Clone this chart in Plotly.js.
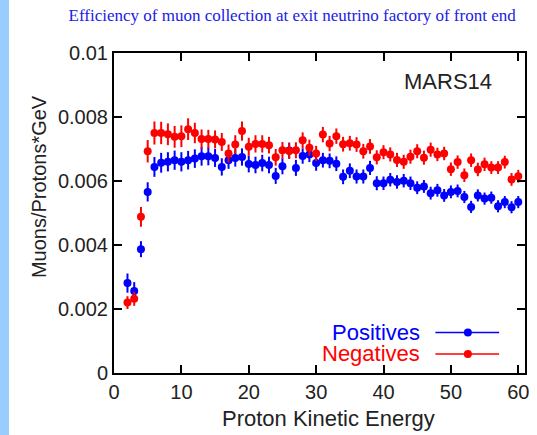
<!DOCTYPE html>
<html>
<head>
<meta charset="utf-8">
<script src="https://cdn.plot.ly/plotly-3.0.1.min.js"></script>
<style>
html,body{margin:0;padding:0;background:#fff;}
#chart{width:537px;height:435px;background:linear-gradient(to right,#99ccff 0px,#99ccff 9px,#ffffff 9px,#ffffff 100%);}
</style>
</head>
<body>
<div id="chart"></div>
<script>
const energy = [2,3,4,5,6,7,8,9,10,11,12,13,14,15,16,17,18,19,20,21,22,23,24,25,26,27,28,29,30,31,32,33,34,35,36,37,38,39,40,41,42,43,44,45,46,47,48,49,50,51,52,53,54,55,56,57,58,59,60];

const positives = [0.00281,0.00256,0.00387,0.00566,0.00644,0.00657,0.00660,0.00665,0.00660,0.00665,
  0.00670,0.00677,0.00677,0.00672,0.00644,0.00665,0.00672,0.00675,0.00653,0.00650,
  0.00656,0.00650,0.00616,0.00646,0.00695,0.00641,0.00678,0.00683,0.00656,0.00665,
  0.00663,0.00654,0.00613,0.00632,0.00614,0.00614,0.00641,0.00593,0.00593,0.00604,
  0.00597,0.00601,0.00593,0.00579,0.00583,0.00562,0.00571,0.00555,0.00566,0.00569,
  0.00550,0.00519,0.00555,0.00545,0.00548,0.00521,0.00534,0.00518,0.00534];

const negatives = [0.00220,0.00232,0.00488,0.00693,0.00750,0.00750,0.00746,0.00738,0.00740,0.00762,
  0.00750,0.00731,0.00731,0.00730,0.00722,0.00686,0.00714,0.00756,0.00707,0.00716,
  0.00716,0.00712,0.00674,0.00696,0.00694,0.00696,0.00727,0.00704,0.00686,0.00745,
  0.00717,0.00740,0.00715,0.00718,0.00714,0.00693,0.00708,0.00674,0.00690,0.00683,
  0.00666,0.00660,0.00676,0.00693,0.00673,0.00698,0.00683,0.00686,0.00637,0.00659,
  0.00618,0.00665,0.00636,0.00652,0.00642,0.00642,0.00659,0.00605,0.00615];

const posErr = [0.00030,0.00028,0.00025,0.00030,0.00031,0.00031,0.00030,0.00030,0.00030,0.00029,
  0.00029,0.00029,0.00028,0.00028,0.00027,0.00027,0.00027,0.00027,0.00026,0.00026,
  0.00026,0.00026,0.00025,0.00025,0.00025,0.00025,0.00024,0.00024,0.00024,0.00023,
  0.00023,0.00023,0.00023,0.00023,0.00022,0.00022,0.00022,0.00022,0.00021,0.00021,
  0.00021,0.00021,0.00021,0.00020,0.00020,0.00020,0.00020,0.00020,0.00020,0.00020,
  0.00019,0.00019,0.00019,0.00019,0.00019,0.00019,0.00019,0.00019,0.00019];

const negErr = [0.00020,0.00022,0.00031,0.00035,0.00036,0.00035,0.00034,0.00034,0.00034,0.00034,
  0.00032,0.00030,0.00029,0.00028,0.00028,0.00028,0.00029,0.00030,0.00028,0.00027,
  0.00027,0.00026,0.00026,0.00026,0.00025,0.00025,0.00025,0.00025,0.00024,0.00024,
  0.00024,0.00024,0.00023,0.00023,0.00023,0.00023,0.00023,0.00022,0.00022,0.00022,
  0.00022,0.00022,0.00022,0.00022,0.00022,0.00022,0.00021,0.00021,0.00021,0.00021,
  0.00021,0.00021,0.00021,0.00021,0.00020,0.00020,0.00020,0.00020,0.00020];

const seriesNames = ['Positives','Negatives'];
const seriesColors = ['#0000ff','#ff0000'];
const chartTitle = 'Efficiency of muon collection at exit neutrino factory of front end';
const xTitle = 'Proton Kinetic Energy';
const yTitle = 'Muons/Protons*GeV';
const tagText = 'MARS14';

const sans = 'Liberation Sans, Arial, sans-serif';
const axisFont = {family:sans, size:20, color:'#222'};

function makeTrace(y, err, i){
  return {
    x: energy, y: y, type:'scatter', mode:'markers', name: seriesNames[i],
    marker:{color: seriesColors[i], size:8},
    error_y:{type:'data', array: err, visible:true, color: seriesColors[i], thickness:2, width:0},
    showlegend:false
  };
}

const data = [makeTrace(positives, posErr, 0), makeTrace(negatives, negErr, 1)];

// legend samples (drawn manually so the symbol sits right of the label)
const legY = [0.1265, 0.0595];
const shapes = [];
const annotations = [];
for (let i=0;i<2;i++){
  shapes.push({type:'line', xref:'paper', yref:'paper', x0:0.782, x1:0.937, y0:legY[i], y1:legY[i],
    line:{color:seriesColors[i], width:1.5}});
  shapes.push({type:'circle', xref:'paper', yref:'paper', xsizemode:'pixel', ysizemode:'pixel',
    xanchor:0.861, yanchor:legY[i], x0:-4, x1:4, y0:-4, y1:4,
    fillcolor:seriesColors[i], line:{color:seriesColors[i], width:0}});
  annotations.push({xref:'paper', yref:'paper', x:0.75, y:legY[i], xanchor:'right', yanchor:'middle',
    text: seriesNames[i], showarrow:false,
    font:{family:sans, size:22, color:seriesColors[i]}});
}
annotations.push({xref:'paper', yref:'paper', x:0.813, y:0.911, xanchor:'center', yanchor:'middle',
  text: tagText, showarrow:false, font:{family:sans, size:22, color:'#222'}});
// axis titles placed as in the reference (slightly off-centre)
annotations.push({xref:'paper', yref:'paper', x:0.521, y:-0.141, xanchor:'center', yanchor:'middle',
  text: xTitle, showarrow:false, font:{family:sans, size:22, color:'#222'}});
annotations.push({xref:'paper', yref:'paper', x:-0.1825, y:0.584, xanchor:'center', yanchor:'middle',
  text: yTitle, textangle:-90, showarrow:false, font:{family:sans, size:20, color:'#222'}});

const layout = {
  width:537, height:435,
  margin:{l:114, r:12, t:53, b:62},
  paper_bgcolor:'rgba(0,0,0,0)',
  plot_bgcolor:'#ffffff',
  title:{text: chartTitle, xref:'container', yref:'container', x:0.544, y:0.966,
    xanchor:'center', yanchor:'middle',
    font:{family:'Liberation Serif, Times New Roman, serif', size:17, color:'#2020e6'}},
  xaxis:{range:[0,61], dtick:10, tick0:0, showgrid:false, zeroline:false,
    showline:true, linecolor:'#000', linewidth:2, mirror:'ticks',
    ticks:'inside', ticklen:8, tickwidth:2, tickcolor:'#000',
    tickfont:axisFont},
  yaxis:{range:[0,0.01], dtick:0.002, tick0:0, showgrid:false, zeroline:false,
    showline:true, linecolor:'#000', linewidth:2, mirror:'ticks',
    ticks:'inside', ticklen:8, tickwidth:2, tickcolor:'#000',
    tickfont:axisFont},
  shapes: shapes,
  annotations: annotations,
  showlegend:false
};

Plotly.newPlot('chart', data, layout, {staticPlot:true, displayModeBar:false});
</script>
</body>
</html>
